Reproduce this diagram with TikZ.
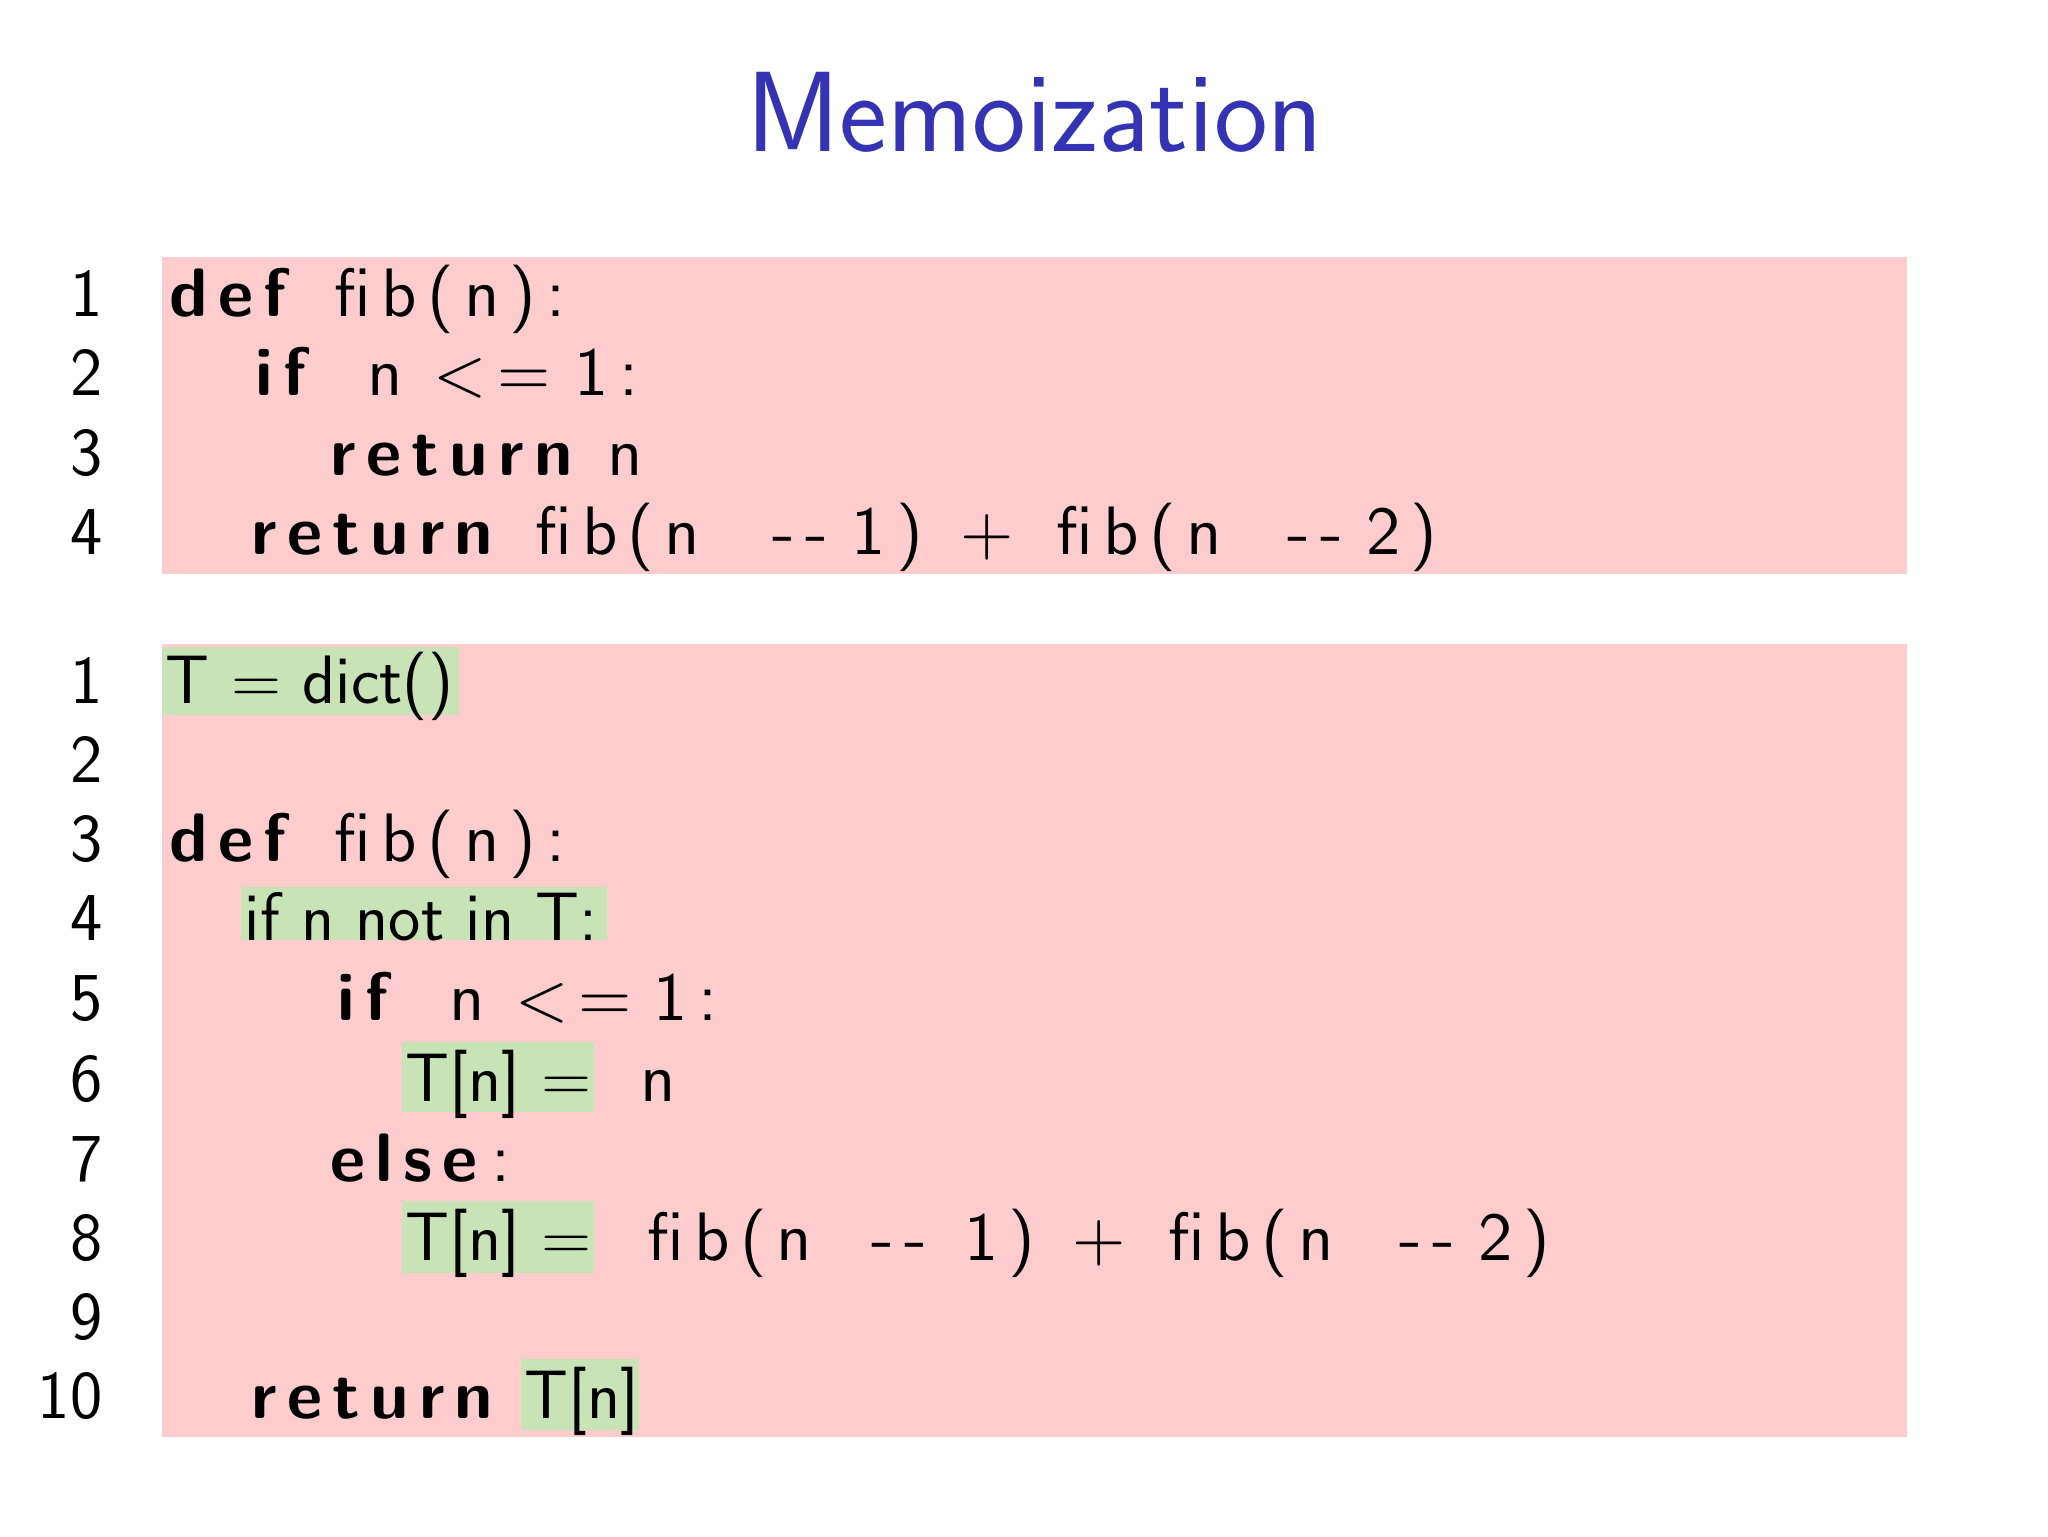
\documentclass[tikz,border=0pt]{standalone}
\usepackage{fontspec}
\newfontfamily\codefont[LetterSpace=15,BoldFont=lmsans10-bold.otf]{lmsans10-regular.otf}
\definecolor{pinkbg}{RGB}{253,204,205}
\definecolor{greenbg}{RGB}{200,228,182}
\definecolor{titleblue}{RGB}{51,51,179}
\newcommand{\cf}{\codefont\fontsize{19.5}{24}\selectfont}
\newcommand{\kw}[1]{{\bfseries #1}}
\newcommand{\tk}[3]{\node[tok] at (#1,#2) {\cf #3};}
\newcommand{\gt}[3]{\node[tok] at (#1,#2) {\sffamily\fontsize{19.5}{24}\selectfont #3};}
\begin{document}
\begin{tikzpicture}[x=0.013196cm,y=-0.013196cm,
  tok/.style={anchor=base west,inner sep=0pt},
  num/.style={anchor=base east,inner sep=0pt,font=\sffamily\fontsize{19.5}{24}\selectfont}]
\useasboundingbox (0,0) rectangle (1552,1164);
\node[font=\sffamily\fontsize{32.5}{38}\selectfont,text=titleblue] (title) at (784,85) {Memoization};
\fill[pinkbg] (123,195) rectangle (1445,435);
\fill[pinkbg] (123,488) rectangle (1445,1089);
\fill[greenbg] (123,490) rectangle (348,542);
\fill[greenbg] (183,672) rectangle (460,712);
\fill[greenbg] (305,790) rectangle (450,843);
\fill[greenbg] (305,910) rectangle (450,965);
\fill[greenbg] (395,1030) rectangle (484,1084);
\foreach \n/\y in {1/240,2/300,3/360,4/420} \node[num] at (78,\y) {\n};
\foreach \n/\y in {1/533,2/593,3/653,4/713,5/773,6/835,7/895,8/955,9/1015,10/1075} \node[num] at (78,\y) {\n};
% box1
\tk{128}{240}{\kw{def}} \tk{253}{240}{fib(n):}
\tk{193}{300}{\kw{if}} \tk{278}{300}{n} \tk{328}{300}{<=} \tk{435}{300}{1:}
\tk{250}{360}{\kw{return}} \tk{460}{360}{n}
\tk{190}{420}{\kw{return}} \tk{405}{420}{fib(n} \tk{585}{420}{--} \tk{645}{420}{1)} \tk{727}{420}{+} \tk{800}{420}{fib(n} \tk{975}{420}{--} \tk{1035}{420}{2)}
% box2
\gt{125}{533}{T = dict()}
\tk{128}{653}{\kw{def}} \tk{253}{653}{fib(n):}
\gt{185}{713}{if n not in T:}
\tk{255}{773}{\kw{if}} \tk{340}{773}{n} \tk{390}{773}{<=} \tk{495}{773}{1:}
\gt{307}{835}{T[n] =} \tk{485}{835}{n}
\tk{250}{895}{\kw{else}} \tk{372}{895}{:}
\gt{307}{955}{T[n] =} \tk{490}{955}{fib(n} \tk{660}{955}{--} \tk{730}{955}{1)} \tk{812}{955}{+} \tk{885}{955}{fib(n} \tk{1060}{955}{--} \tk{1120}{955}{2)}
\tk{190}{1075}{\kw{return}} \gt{397}{1075}{T[n]}
\end{tikzpicture}
\end{document}
